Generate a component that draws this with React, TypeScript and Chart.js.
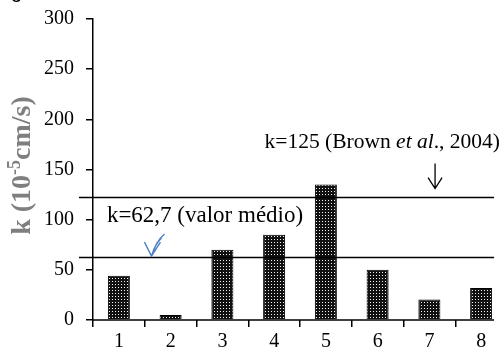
import React, { useEffect, useRef } from "react";
import { Chart, registerables } from "chart.js";

Chart.register(...registerables);

const categories = ["1", "2", "3", "4", "5", "6", "7", "8"];
const kValues = [44, 5, 70, 85, 135, 50, 20.5, 32];
const yTicks = [0, 50, 100, 150, 200, 250, 300];
const meanLine = 62.7;
const brownLine = 123;
const meanLabel = "k=62,7 (valor médio)";
const brownLabelParts = [
  { t: "k=125 (Brown ", italic: false },
  { t: "et al", italic: true },
  { t: "., 2004)", italic: false },
];
const yTitleParts = { before: "k (10", sup: "-5", after: "cm/s)" };

const SERIF = '"Liberation Serif", "Times New Roman", serif';
const SHIFT = 5;

function makePattern(): CanvasPattern | string {
  const c = document.createElement("canvas");
  c.width = 3;
  c.height = 3;
  const g = c.getContext("2d");
  if (!g) return "#222";
  g.fillStyle = "#111";
  g.fillRect(0, 0, 3, 3);
  g.fillStyle = "#f2f2f2";
  g.fillRect(1, 1, 1, 1);
  const p = g.createPattern(c, "repeat");
  return p || "#222";
}

const overlayPlugin = {
  id: "overlay",
  afterDatasetsDraw(chart: any) {
    const ctx = chart.ctx as CanvasRenderingContext2D;
    const x = chart.scales.x;
    const y = chart.scales.y;
    const area = chart.chartArea;
    const clipX = x.getPixelForValue(7.25);
    ctx.save();
    // x axis line
    ctx.strokeStyle = "#000";
    ctx.lineWidth = 1.5;
    ctx.beginPath();
    ctx.moveTo(area.left, area.bottom);
    ctx.lineTo(clipX, area.bottom);
    ctx.stroke();
    // reference lines
    [meanLine, brownLine].forEach((v) => {
      const py = Math.round(y.getPixelForValue(v)) + 0.5;
      ctx.beginPath();
      ctx.moveTo(area.left - 14, py);
      ctx.lineTo(clipX, py);
      ctx.stroke();
    });
    // texts
    ctx.fillStyle = "#000";
    ctx.textBaseline = "alphabetic";
    ctx.textAlign = "left";
    ctx.font = `23px ${SERIF}`;
    ctx.fillText(meanLabel, x.getPixelForValue(0) - 12, y.getPixelForValue(meanLine) - 35);
    const bSize = 21.5;
    let total = 0;
    brownLabelParts.forEach((p) => {
      ctx.font = `${p.italic ? "italic " : ""}${bSize}px ${SERIF}`;
      total += ctx.measureText(p.t).width;
    });
    let tx = x.getPixelForValue(7.365) - total;
    const ty = y.getPixelForValue(brownLine) - 49;
    brownLabelParts.forEach((p) => {
      ctx.font = `${p.italic ? "italic " : ""}${bSize}px ${SERIF}`;
      ctx.fillText(p.t, tx, ty);
      tx += ctx.measureText(p.t).width;
    });
    // black arrow
    const ax = x.getPixelForValue(6.11);
    const ayTop = y.getPixelForValue(brownLine) - 33;
    const ayTip = y.getPixelForValue(brownLine) - 8;
    ctx.lineWidth = 1.3;
    ctx.beginPath();
    ctx.moveTo(ax, ayTop);
    ctx.lineTo(ax, ayTip);
    ctx.moveTo(ax - 7, ayTip - 11);
    ctx.lineTo(ax, ayTip);
    ctx.lineTo(ax + 7, ayTip - 11);
    ctx.stroke();
    // blue hand-drawn arrow
    const bx = x.getPixelForValue(0.63);
    const by = y.getPixelForValue(meanLine) - 1;
    ctx.strokeStyle = "#4f81c9";
    ctx.lineWidth = 1.4;
    ctx.beginPath();
    ctx.moveTo(bx + 13, by - 22);
    ctx.quadraticCurveTo(bx + 4, by - 14, bx, by);
    ctx.moveTo(bx + 10, by - 18);
    ctx.quadraticCurveTo(bx + 3, by - 11, bx + 1, by - 1);
    ctx.moveTo(bx - 7, by - 14);
    ctx.lineTo(bx, by);
    ctx.lineTo(bx + 9, by - 14);
    ctx.stroke();
    // y title
    ctx.fillStyle = "#7f7f7f";
    ctx.translate(30, y.getPixelForValue(150) - 4);
    ctx.rotate(-Math.PI / 2);
    const big = 28;
    const small = 18;
    ctx.font = `bold ${big}px ${SERIF}`;
    const w1 = ctx.measureText(yTitleParts.before).width;
    ctx.font = `bold ${small}px ${SERIF}`;
    const w2 = ctx.measureText(yTitleParts.sup).width;
    ctx.font = `bold ${big}px ${SERIF}`;
    const w3 = ctx.measureText(yTitleParts.after).width;
    let sx = -(w1 + w2 + w3) / 2;
    ctx.fillText(yTitleParts.before, sx, 0);
    sx += w1;
    ctx.font = `bold ${small}px ${SERIF}`;
    ctx.fillText(yTitleParts.sup, sx, -10);
    sx += w2;
    ctx.font = `bold ${big}px ${SERIF}`;
    ctx.fillText(yTitleParts.after, sx, 0);
    ctx.restore();
    // cropped fragment at top-left
    ctx.save();
    ctx.fillStyle = "#000";
    ctx.font = `20px "Liberation Sans", Arial, sans-serif`;
    ctx.fillText("g", 11, SHIFT - 2);
    ctx.restore();
  },
};

export default function App() {
  const ref = useRef<HTMLCanvasElement | null>(null);
  useEffect(() => {
    document.body.style.margin = "0";
    const canvas = ref.current;
    if (!canvas) return;
    const chart = new Chart(canvas, {
      type: "bar",
      data: {
        labels: categories,
        datasets: [
          {
            data: kValues,
            backgroundColor: makePattern() as any,
            borderColor: "#000",
            borderWidth: 1,
            barPercentage: 0.425,
            categoryPercentage: 1,
          },
        ],
      },
      options: {
        responsive: false,
        animation: false,
        layout: { padding: { left: 0, right: 13, top: 12, bottom: 0 } },
        plugins: { legend: { display: false }, tooltip: { enabled: false } },
        scales: {
          x: {
            offset: true,
            grid: {
              offset: true,
              drawOnChartArea: false,
              drawTicks: true,
              tickLength: 7,
              color: "#000",
              lineWidth: 1.5,
            },
            border: { display: false },
            ticks: { color: "#000", font: { family: SERIF, size: 20 }, padding: 3 },
            afterFit: (s: any) => {
              s.height = 36;
            },
          },
          y: {
            min: 0,
            max: 300,
            afterBuildTicks: (s: any) => {
              s.ticks = yTicks.map((v) => ({ value: v }));
            },
            grid: {
              drawOnChartArea: false,
              drawTicks: true,
              tickLength: 7,
              color: "#000",
              lineWidth: 1.5,
            },
            border: { display: true, color: "#000", width: 1.5 },
            ticks: { color: "#000", font: { family: SERIF, size: 20 }, padding: 12 },
            afterFit: (s: any) => {
              s.width = 93;
            },
          },
        },
      },
      plugins: [overlayPlugin],
    });
    return () => chart.destroy();
  }, []);
  return (
    <div style={{ position: "relative", width: 503, height: 356, overflow: "hidden", background: "#fff" }}>
      <canvas
        ref={ref}
        width={520}
        height={356 + SHIFT}
        style={{ position: "absolute", left: 0, top: -SHIFT, width: 520, height: 356 + SHIFT, display: "block" }}
      />
    </div>
  );
}
